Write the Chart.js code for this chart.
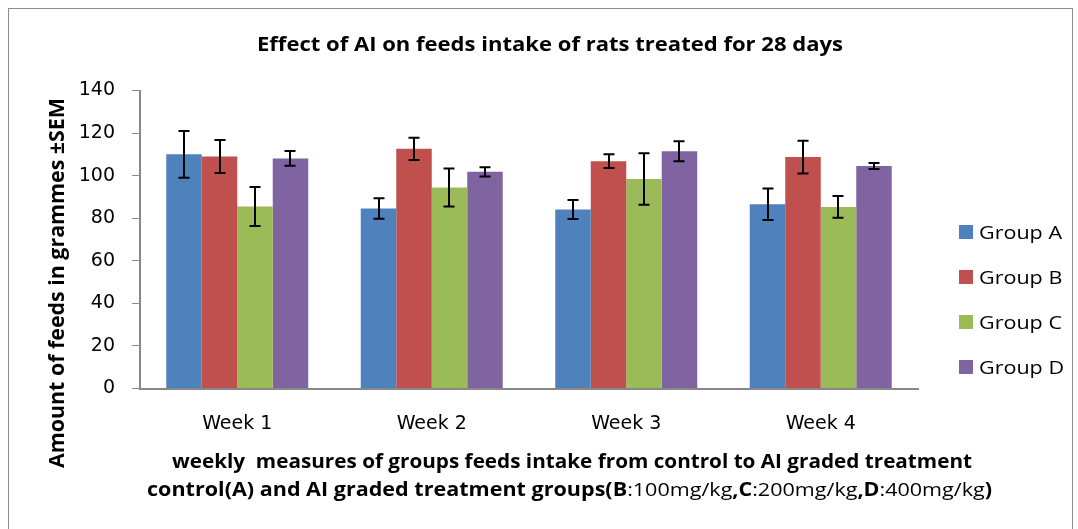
<!DOCTYPE html>
<html>
<head>
<meta charset="utf-8">
<script src="https://cdn.jsdelivr.net/npm/chart.js@4.4.1/dist/chart.umd.min.js"></script>
<style>
    html, body { margin: 0; padding: 0; background: #ffffff; }
    #wrap { width: 1078px; height: 529px; position: relative; }
</style>
</head>
<body>
<div id="wrap"><canvas id="feedChart" width="1078" height="529"></canvas></div>
<script>
// Weekly feed intake per group (mean and SEM)
const weeks = ['Week 1', 'Week 2', 'Week 3', 'Week 4'];
const groupNames = ['Group A', 'Group B', 'Group C', 'Group D'];

const groupA = [110, 84.6, 84.1, 86.6];
const groupB = [109, 112.6, 106.8, 108.7];
const groupC = [85.5, 94.4, 98.4, 85.3];
const groupD = [108.1, 101.8, 111.5, 104.5];

const semA = [11, 4.8, 4.5, 7.4];
const semB = [7.8, 5.2, 3.2, 7.7];
const semC = [9.2, 8.9, 12.1, 5.1];
const semD = [3.5, 2.2, 4.7, 1.4];

const yTicks = [0, 20, 40, 60, 80, 100, 120, 140];

const chartTitle = 'Effect of AI on feeds intake of rats treated for 28 days';
const yTitle = 'Amount of feeds in grammes \u00b1SEM';
const xTitleLine1 = 'weekly  measures of groups feeds intake from control to AI graded treatment';
// second line mixes bold and regular runs
const xTitleLine2 = [
    ['control(A) and AI graded treatment groups(B', true],
    [':100mg/kg', false],
    [',C', true],
    [':200mg/kg', false],
    [',D', true],
    [':400mg/kg', false],
    [')', true]
];

// Excel 2007 default palette
const COLORS = ['#4F81BD', '#C0504D', '#9BBB59', '#8064A2'];
const AXIS_GREY = '#898989';
const TEXT_FONT = '"Open Sans"';

const seriesValues = [groupA, groupB, groupC, groupD];
const seriesErrors = [semA, semB, semC, semD];

// draw a run of text parts squeezed/stretched horizontally
function drawRuns(ctx, parts, x, y, width) {
    let natural = 0;
    parts.forEach(p => { ctx.font = p[1]; natural += ctx.measureText(p[0]).width; });
    const sx = width ? width / natural : 1;
    ctx.save();
    ctx.translate(x, y);
    ctx.scale(sx, 1);
    let cx = 0;
    parts.forEach(p => {
        ctx.font = p[1];
        ctx.fillText(p[0], cx, 0);
        cx += ctx.measureText(p[0]).width;
    });
    ctx.restore();
    return sx;
}

const errorBarPlugin = {
    id: 'errorBars',
    afterDatasetsDraw(chart) {
        const ctx = chart.ctx;
        const y = chart.scales.y;
        ctx.save();
        ctx.strokeStyle = '#000000';
        ctx.lineWidth = 2;
        chart.data.datasets.forEach((ds, i) => {
            const meta = chart.getDatasetMeta(i);
            meta.data.forEach((bar, j) => {
                const v = ds.data[j];
                const e = seriesErrors[i][j];
                const top = y.getPixelForValue(v + e);
                const bot = y.getPixelForValue(v - e);
                const x = Math.round(bar.x);
                ctx.beginPath();
                ctx.moveTo(x, top); ctx.lineTo(x, bot);
                ctx.moveTo(x - 5.5, top); ctx.lineTo(x + 5.5, top);
                ctx.moveTo(x - 5.5, bot); ctx.lineTo(x + 5.5, bot);
                ctx.stroke();
            });
        });
        ctx.restore();
    }
};

const decorPlugin = {
    id: 'decor',
    beforeDraw(chart) {
        const ctx = chart.ctx;
        ctx.save();
        ctx.fillStyle = '#ffffff';
        ctx.fillRect(0, 0, chart.width, chart.height);
        // chart area frame
        ctx.strokeStyle = '#8c8c8c';
        ctx.lineWidth = 1;
        ctx.strokeRect(8.5, 8.5, 1064, 540);
        ctx.restore();
    },
    afterDraw(chart) {
        const ctx = chart.ctx;
        ctx.save();
        ctx.fillStyle = '#000000';
        ctx.textBaseline = 'alphabetic';

        // title
        drawRuns(ctx, [[chartTitle, 'bold 20px ' + TEXT_FONT]], 257, 51, 586);

        // y axis title, rotated
        ctx.save();
        ctx.translate(64, 468);
        ctx.rotate(-Math.PI / 2);
        drawRuns(ctx, [[yTitle, 'bold 22px ' + TEXT_FONT]], 0, 0, 370);
        ctx.restore();

        // x axis title, two lines
        drawRuns(ctx, [[xTitleLine1, 'bold 19px ' + TEXT_FONT]], 172, 468, 800);
        drawRuns(ctx, xTitleLine2.map(r => [r[0], (r[1] ? 'bold ' : '') + '19px ' + TEXT_FONT]), 147, 496, 845);

        // legend
        ctx.font = '18.5px ' + TEXT_FONT;
        const sx = 83 / ctx.measureText(groupNames[0]).width;
        groupNames.forEach((name, i) => {
            const top = 225 + i * 45;
            ctx.fillStyle = COLORS[i];
            ctx.fillRect(959, top, 14, 14);
            ctx.fillStyle = '#000000';
            ctx.save();
            ctx.translate(979, top + 13.5);
            ctx.scale(sx, 1);
            ctx.font = '18.5px ' + TEXT_FONT;
            ctx.fillText(name, 0, 0);
            ctx.restore();
        });
        ctx.restore();
    }
};

const ctx = document.getElementById('feedChart').getContext('2d');

new Chart(ctx, {
    type: 'bar',
    data: {
        labels: weeks,
        datasets: groupNames.map((name, i) => ({
            label: name,
            data: seriesValues[i],
            backgroundColor: COLORS[i],
            borderWidth: 0,
            categoryPercentage: 0.73,
            barPercentage: 1.0
        }))
    },
    options: {
        responsive: false,
        animation: false,
        devicePixelRatio: 1,
        layout: { padding: { left: 80, right: 160, top: 90.5, bottom: 40.5 } },
        plugins: {
            legend: { display: false },
            title: { display: false },
            tooltip: { enabled: false }
        },
        scales: {
            x: {
                afterFit: s => { s.height = 100; },
                grid: { display: false },
                border: { display: true, color: AXIS_GREY, width: 2 },
                ticks: {
                    color: '#000000',
                    padding: 16,
                    font: { family: 'DejaVu Sans', size: 19 }
                }
            },
            y: {
                min: 0,
                max: 140,
                afterFit: s => { s.width = 60; },
                afterBuildTicks: s => { s.ticks = yTicks.map(v => ({ value: v })); },
                grid: {
                    drawOnChartArea: false,
                    drawTicks: true,
                    tickLength: 8,
                    color: AXIS_GREY,
                    lineWidth: 1
                },
                border: { display: true, color: AXIS_GREY, width: 2 },
                ticks: {
                    color: '#000000',
                    padding: 17,
                    font: { family: 'DejaVu Sans', size: 19 }
                }
            }
        }
    },
    plugins: [decorPlugin, errorBarPlugin]
});
</script>
</body>
</html>
